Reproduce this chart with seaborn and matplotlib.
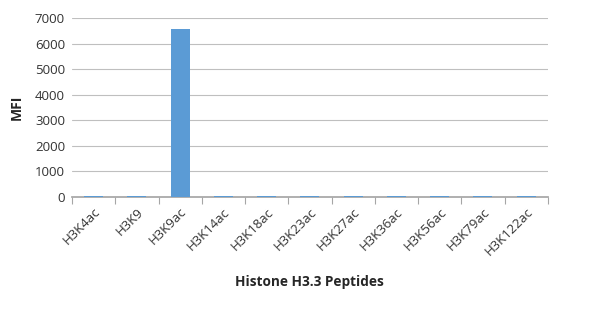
import matplotlib
matplotlib.use("Agg")
import matplotlib.pyplot as plt
import seaborn as sns
import pandas as pd
import numpy as np

peptides = ["H3K4ac", "H3K9", "H3K9ac", "H3K14ac", "H3K18ac", "H3K23ac",
            "H3K27ac", "H3K36ac", "H3K56ac", "H3K79ac", "H3K122ac"]
mfi = [25, 20, 6580, 22, 25, 20, 22, 20, 25, 22, 25]
yticks = [0, 1000, 2000, 3000, 4000, 5000, 6000, 7000]

sns.set_theme(style="white")
plt.rcParams['font.family'] = ['Open Sans', 'DejaVu Sans']

df = pd.DataFrame({"Peptide": peptides, "MFI": mfi})

fig = plt.figure(figsize=(6, 3.11), dpi=100)
ax = fig.add_axes([0.12, 0.3666, 0.793, 0.5755])
sns.barplot(data=df, x="Peptide", y="MFI", color="#5B9BD5", width=0.44,
            saturation=1, ax=ax, zorder=3, linewidth=0, edgecolor="none")
ax.set_ylim(0, 7000)
ax.set_yticks(yticks)
ax.set_yticklabels([str(t) for t in yticks], fontsize=9.5, color="#333333")
ax.set_xlim(-0.5, len(peptides) - 0.5)
ax.yaxis.grid(True, color="#BFBFBF", linewidth=0.8, zorder=0)
ax.set_axisbelow(True)
for s in ["top", "right", "left"]:
    ax.spines[s].set_visible(False)
ax.spines["bottom"].set_color("#A6A6A6")
ax.set_xticks(np.arange(len(peptides)))
ax.set_xticklabels(peptides, rotation=45, ha="right", rotation_mode="anchor",
                   fontsize=9.5, color="#333333")
ax.tick_params(axis="x", which="major", length=0, pad=6)
ax.tick_params(axis="y", length=0, pad=5)
ax.set_xticks(np.arange(-0.5, len(peptides) + 0.5, 1), minor=True)
ax.tick_params(axis="x", which="minor", length=5, width=0.8, color="#A6A6A6",
               direction="out", bottom=True)
ax.set_xlabel("Histone H3.3 Peptides", fontsize=9.8, fontweight="bold", labelpad=12)
ax.set_ylabel("MFI", fontsize=10, fontweight="bold", labelpad=8)
fig.savefig("out.png", dpi=100)
